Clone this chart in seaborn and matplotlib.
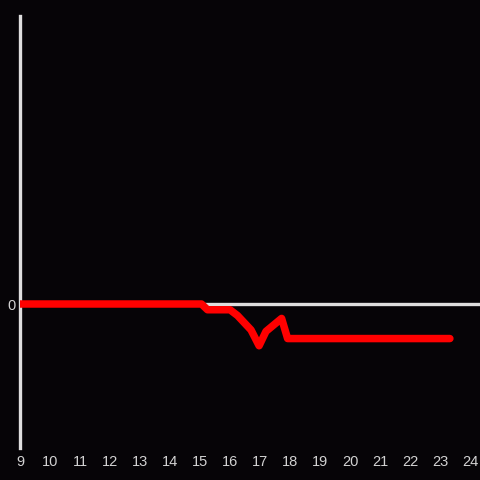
import matplotlib
matplotlib.use("Agg")
import matplotlib.pyplot as plt
import numpy as np
import pandas as pd
import seaborn as sns

# hour of day vs. change
hours = [9.0, 15.05, 15.25, 16.0, 16.25, 16.7, 16.97, 17.2, 17.72, 17.92, 23.33]
change = [0.0, 0.0, -0.4, -0.4, -0.8, -1.8, -2.9, -1.9, -1.0, -2.4, -2.4]
xticks = list(range(9, 25))
yticks = [0]

BG = "#060407"
AXIS = "#dedede"
TXT = "#d2d2d2"

sns.set_style("dark")
plt.rcParams["font.family"] = ["Liberation Sans", "DejaVu Sans"]

df = pd.DataFrame({"hour": hours, "change": change})

fig = plt.figure(figsize=(4.8, 4.8), dpi=100, facecolor=BG)
ax = fig.add_axes([20 / 480, 32 / 480, 460 / 480, 432 / 480])
ax.set_facecolor(BG)

ax.axhline(0, color=AXIS, lw=2.4, zorder=1)
sns.lineplot(data=df, x="hour", y="change", ax=ax, color="#ff0000",
             lw=5.4, sort=False, zorder=3)

ax.set_xlim(9, 9 + 460 / 30)
ax.set_ylim(-10, 20)
ax.set_xticks(xticks)
ax.set_yticks(yticks)
ax.tick_params(axis="both", length=0, colors=TXT, labelsize=10.5)
ax.tick_params(axis="x", pad=5)
ax.tick_params(axis="y", pad=3)
ax.set_xlabel("")
ax.set_ylabel("")
ax.grid(False)
for side in ["top", "right", "bottom"]:
    ax.spines[side].set_visible(False)
ax.spines["left"].set_color(AXIS)
ax.spines["left"].set_linewidth(2.4)

fig.savefig("out.png", dpi=100, facecolor=BG)
